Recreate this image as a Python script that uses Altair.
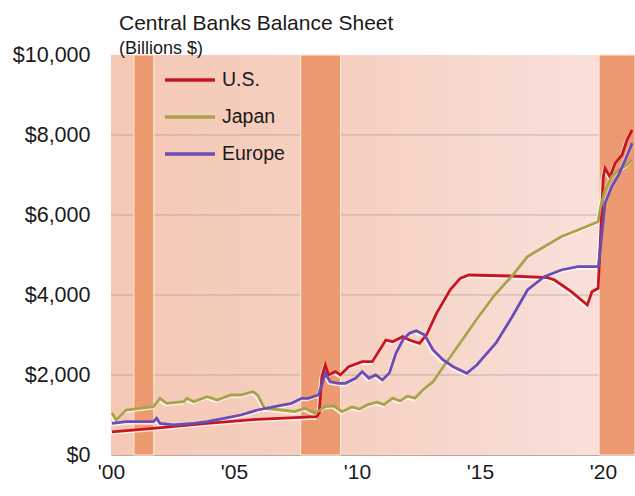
import altair as alt
import pandas as pd

FONT = "Liberation Sans"

# ---- data ----
us_years = [2000.04, 2001.72, 2003.91, 2005.96, 2008.36, 2008.46, 2008.57, 2008.71, 2008.84, 2009.12,
            2009.32, 2009.66, 2010.21, 2010.62, 2011.17, 2011.45, 2011.86, 2012.13, 2012.54, 2012.82,
            2013.23, 2013.78, 2014.19, 2014.55, 2016.24, 2017.75, 2018.03, 2018.71, 2019.36, 2019.55,
            2019.80, 2019.88, 2020.01, 2020.08, 2020.28, 2020.49, 2020.77, 2020.97, 2021.18]
us_values = [580, 667, 792, 892, 958, 1042, 1958, 2250, 2000, 2083,
             2000, 2208, 2333, 2333, 2875, 2833, 2958, 2875, 2792, 3000,
             3542, 4125, 4417, 4500, 4475, 4433, 4375, 4083, 3750, 4083,
             4167, 5208, 6958, 7167, 6958, 7292, 7500, 7875, 8125]

jp_years = [2000.04, 2000.21, 2000.62, 2001.17, 2001.72, 2001.99, 2002.26, 2002.95, 2003.09, 2003.36,
            2003.91, 2004.32, 2004.87, 2005.28, 2005.76, 2005.96, 2006.24, 2006.92, 2007.47, 2007.88,
            2008.29, 2008.71, 2009.05, 2009.39, 2009.80, 2010.10, 2010.45, 2010.80, 2011.10, 2011.45,
            2011.75, 2012.05, 2012.35, 2012.68, 2013.09, 2013.50, 2014.19, 2014.87, 2015.60, 2016.30,
            2016.93, 2017.61, 2018.30, 2018.98, 2019.80, 2019.90, 2020.08, 2020.35, 2020.63, 2020.97,
            2021.18]
jp_values = [1050, 875, 1125, 1167, 1208, 1417, 1292, 1333, 1417, 1333,
             1458, 1375, 1500, 1500, 1583, 1500, 1167, 1125, 1083, 1167,
             1042, 1208, 1230, 1083, 1200, 1150, 1260, 1320, 1260, 1420,
             1350, 1470, 1420, 1625, 1833, 2200, 2800, 3400, 4000, 4475,
             4958, 5208, 5458, 5625, 5833, 6208, 6625, 6958, 7125, 7250,
             7375]

eu_years = [2000.04, 2000.62, 2001.17, 2001.72, 2001.85, 2001.99, 2002.54, 2003.36, 2003.91, 2004.59,
            2005.28, 2005.96, 2006.65, 2007.34, 2007.75, 2008.02, 2008.43, 2008.57, 2008.71, 2008.91,
            2009.25, 2009.53, 2009.94, 2010.21, 2010.49, 2010.76, 2011.03, 2011.31, 2011.58, 2011.86,
            2012.13, 2012.41, 2012.75, 2013.09, 2013.50, 2013.91, 2014.46, 2014.87, 2015.65, 2016.30,
            2016.93, 2017.61, 2018.30, 2018.98, 2019.81, 2019.94, 2020.08, 2020.35, 2020.63, 2020.90,
            2021.18]
eu_values = [792, 833, 833, 833, 917, 792, 750, 792, 833, 917,
             1000, 1125, 1208, 1292, 1417, 1417, 1500, 1750, 2042, 1833,
             1792, 1792, 1917, 2083, 1917, 2000, 1875, 2042, 2542, 2875,
             3042, 3108, 3000, 2625, 2375, 2208, 2042, 2250, 2800, 3450,
             4125, 4458, 4625, 4708, 4708, 5458, 6292, 6708, 7000, 7375,
             7792]

series_names = ["U.S.", "Japan", "Europe"]
series_colors = ["#c8141e", "#a8a24a", "#6a4cb4"]

band_start = [2000.93, 2007.71, 2019.84]
band_end = [2001.74, 2009.33, 2021.30]

y_ticks = [0, 2000, 4000, 6000, 8000, 10000]
x_ticks = [2000, 2005, 2010, 2015, 2020]
x_domain = [2000.0, 2021.30]
y_domain = [0, 10000]

# ---- tables ----
rows = []
for name, ys, vs in zip(series_names, [us_years, jp_years, eu_years], [us_values, jp_values, eu_values]):
    for i, (yr, v) in enumerate(zip(ys, vs)):
        rows.append({"series": name, "year": yr, "value": v, "order": i})
lines_df = pd.DataFrame(rows)
bands_df = pd.DataFrame({"start": band_start, "end": band_end})
grid_df = pd.DataFrame({"y": y_ticks[1:-1]})

xs = alt.Scale(domain=x_domain, nice=False, zero=False)
ysc = alt.Scale(domain=y_domain, nice=False)

x_axis = alt.Axis(values=x_ticks, labelExpr="\"'\" + substring(toString(datum.value), 2, 4)",
                  ticks=False, domain=False, grid=False, labelFontSize=21, labelPadding=6,
                  labelFlush=False, labelOverlap=False,
                  labelColor="#1a1a1a", labelFont=FONT, title=None)
y_axis = alt.Axis(values=y_ticks, format="$,.0f", ticks=False, domain=False, grid=False,
                  labelFontSize=21.5, labelPadding=21, labelColor="#1a1a1a", labelFont=FONT, title=None)

bg = alt.Chart(pd.DataFrame({"a": [0]})).mark_rect(
    color=alt.Gradient(gradient="linear", x1=0, x2=1, y1=0, y2=0,
                       stops=[alt.GradientStop(color="#f5c8b4", offset=0),
                              alt.GradientStop(color="#f6d2c4", offset=0.5),
                              alt.GradientStop(color="#f9e3de", offset=1)])
).encode(
    x=alt.datum(x_domain[0], scale=xs, axis=x_axis),
    x2=alt.datum(x_domain[1]),
    y=alt.datum(y_domain[0], scale=ysc, axis=y_axis),
    y2=alt.datum(y_domain[1]),
)

grid = alt.Chart(grid_df).mark_rule(color="#9a8c88", strokeWidth=0.8, opacity=0.7).encode(
    y=alt.Y("y:Q", scale=ysc, axis=y_axis)
)

bands = alt.Chart(bands_df).mark_rect(color="#ee9a70", stroke="#fbeede", strokeWidth=1).encode(
    x=alt.X("start:Q", scale=xs, axis=x_axis),
    x2="end:Q",
    y=alt.datum(y_domain[0], scale=ysc),
    y2=alt.datum(y_domain[1]),
)

halo = alt.Chart(lines_df).mark_line(color="white", strokeWidth=3, opacity=0.75,
                                     xOffset=-1.2, yOffset=1.5, interpolate="linear").encode(
    x=alt.X("year:Q", scale=xs, axis=x_axis),
    y=alt.Y("value:Q", scale=ysc, axis=y_axis),
    detail="series:N",
    order="order:Q",
)

lines = alt.Chart(lines_df).mark_line(strokeWidth=2.8).encode(
    x=alt.X("year:Q", scale=xs, axis=x_axis),
    y=alt.Y("value:Q", scale=ysc, axis=y_axis),
    color=alt.Color("series:N", scale=alt.Scale(domain=series_names, range=series_colors),
                    sort=series_names,
                    legend=alt.Legend(orient="none", legendX=52, legendY=-2, title=None,
                                      symbolType="stroke", symbolSize=2500, symbolStrokeWidth=3.5,
                                      labelFontSize=19.5, labelFont=FONT, labelColor="#1a1a1a",
                                      labelOffset=5, rowPadding=-8, padding=0, direction="vertical")),
    order="order:Q",
)

chart = alt.layer(bg, grid, bands, halo, lines).properties(
    width=524, height=400,
    title=alt.TitleParams("Central Banks Balance Sheet", subtitle="(Billions $)", anchor="start",
                          frame="group",
                          fontSize=21, subtitleFontSize=18, font=FONT, subtitleFont=FONT,
                          fontWeight="normal", color="#1a1a1a", subtitleColor="#1a1a1a",
                          dx=8, offset=-14, subtitlePadding=6),
    autosize=alt.AutoSizeParams(type="none"),
    padding={"left": 111, "top": 55, "right": 0, "bottom": 41},
    background="white",
).configure_view(stroke="#b8aaa6", strokeWidth=1)

chart.save("out.html", embed_options={"renderer": "svg", "actions": False})
